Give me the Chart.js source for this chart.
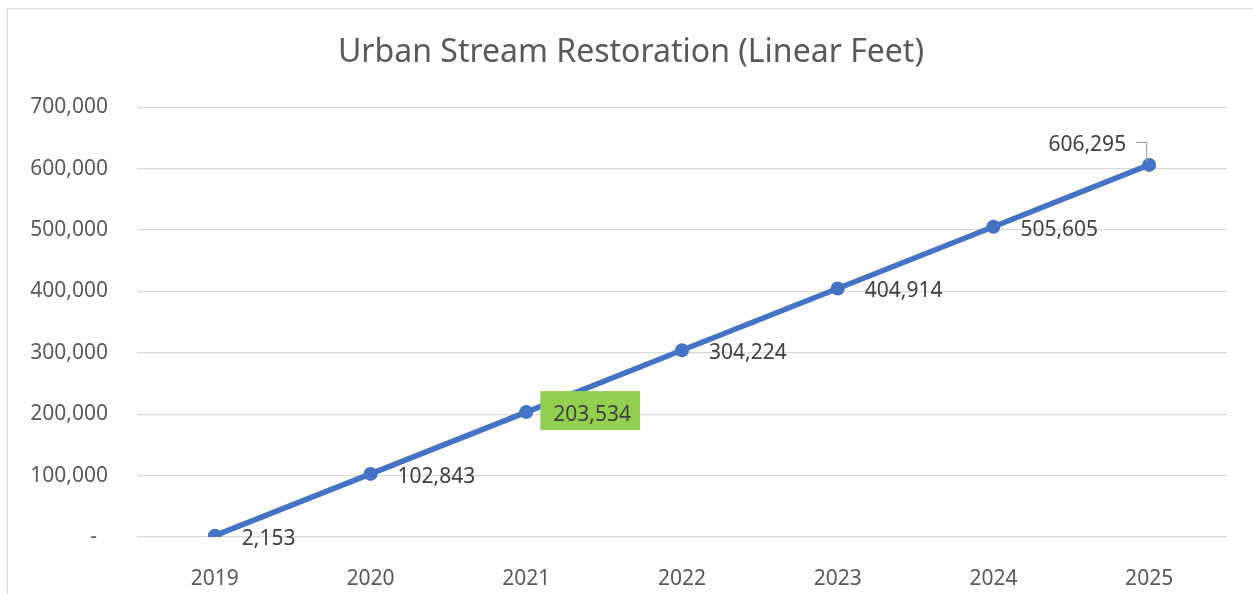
<!DOCTYPE html>
<html>
<head>
<meta charset="utf-8">
<script src="https://cdn.jsdelivr.net/npm/chart.js@4.4.0/dist/chart.umd.min.js"></script>
<style>
html,body{margin:0;padding:0;background:#fff;}
#wrap{width:1253px;height:594px;position:relative;}
</style>
</head>
<body>
<div id="wrap"><canvas id="c" width="1253" height="594"></canvas></div>
<script>
const categories = ['2019','2020','2021','2022','2023','2024','2025'];
const values = [2153, 102843, 203534, 304224, 404914, 505605, 606295];
const yTicks = [0, 100000, 200000, 300000, 400000, 500000, 600000, 700000];
const highlightIndex = 2;
const titleText = 'Urban Stream Restoration (Linear Feet)';

const FONT = '"Noto Sans", "Open Sans", sans-serif';
const fmt = v => v.toLocaleString('en-US');

const borderPlugin = {
  id: 'frame',
  afterLayout(chart) {
    const t = chart.titleBlock;
    if (t) { t.left = 35; t.right = chart.width - 26; t.width = t.right - t.left; }
  },
  beforeDraw(chart) {
    const ctx = chart.ctx;
    ctx.save();
    ctx.fillStyle = '#fff';
    ctx.fillRect(0, 0, chart.width, chart.height);
    ctx.strokeStyle = '#d9d9d9';
    ctx.lineWidth = 1;
    ctx.strokeRect(7.5, 8.5, chart.width + 20, chart.height + 20);
    ctx.restore();
  }
};

const labelPlugin = {
  id: 'pointLabels',
  afterDatasetsDraw(chart) {
    const ctx = chart.ctx;
    const meta = chart.getDatasetMeta(0);
    ctx.save();
    ctx.font = '21px ' + FONT;
    ctx.textBaseline = 'middle';
    meta.data.forEach((pt, i) => {
      const txt = fmt(values[i]);
      const x = pt.x, y = pt.y;
      if (i === values.length - 1) {
        ctx.textAlign = 'right';
        ctx.fillStyle = '#404040';
        ctx.fillText(txt, x - 23, y - 20);
        ctx.strokeStyle = '#a6a6a6';
        ctx.lineWidth = 1.2;
        ctx.beginPath();
        ctx.moveTo(x - 13, y - 22.5);
        ctx.lineTo(x - 2.5, y - 22.5);
        ctx.lineTo(x - 2.5, y - 4);
        ctx.stroke();
      } else {
        ctx.textAlign = 'left';
        const w = ctx.measureText(txt).width;
        if (i === highlightIndex) {
          ctx.fillStyle = '#92d050';
          ctx.fillRect(x + 14, y - 21, w + 13 + 9, 39);
        }
        ctx.fillStyle = '#404040';
        ctx.fillText(txt, x + 27, y + 3);
      }
    });
    ctx.restore();
  }
};

new Chart(document.getElementById('c'), {
  type: 'line',
  data: {
    labels: categories,
    datasets: [{
      data: values,
      borderColor: '#4472c4',
      backgroundColor: '#4472c4',
      borderWidth: 5.5,
      pointRadius: 7,
      pointBackgroundColor: '#4472c4',
      pointBorderColor: '#4472c4',
      pointBorderWidth: 0,
      tension: 0,
      fill: false
    }]
  },
  options: {
    responsive: false,
    animation: false,
    devicePixelRatio: 1,
    layout: { padding: { left: 0, right: 26, top: 0, bottom: 0 } },
    plugins: {
      legend: { display: false },
      tooltip: { enabled: false },
      title: {
        display: true,
        text: titleText,
        color: '#595959',
        font: { family: FONT, size: 32, weight: 'normal', lineHeight: 1.2 },
        padding: { top: 34, bottom: 35 }
      }
    },
    scales: {
      x: {
        offset: true,
        grid: { display: false },
        border: { display: false },
        ticks: { color: '#595959', font: { family: FONT, size: 21 }, padding: 21, maxRotation: 0 },
        afterFit(s) { s.height = 57; }
      },
      y: {
        min: 0,
        max: 700000,
        afterBuildTicks(s) { s.ticks = yTicks.map(v => ({ value: v })); },
        grid: { color: '#d9d9d9', lineWidth: 1.3, drawTicks: false },
        border: { display: false },
        ticks: {
          color: '#595959',
          font: { family: FONT, size: 21 },
          padding: 29,
          callback: v => v === 0 ? '-  ' : fmt(v)
        },
        afterFit(s) { s.width = 137; }
      }
    }
  },
  plugins: [borderPlugin, labelPlugin]
});
</script>
</body>
</html>
